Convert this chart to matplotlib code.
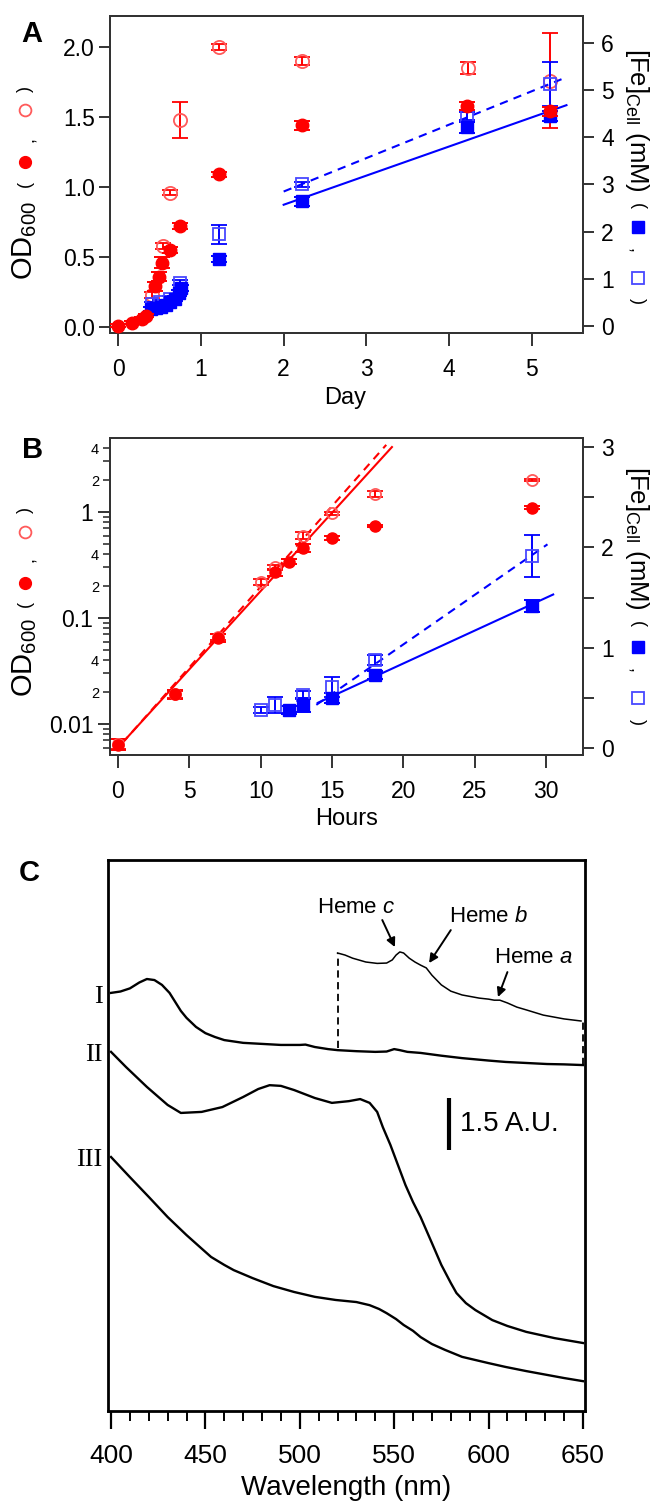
import numpy as np
import matplotlib
matplotlib.use('Agg')
import matplotlib.pyplot as plt
from matplotlib.lines import Line2D
from matplotlib.ticker import LogLocator, FuncFormatter, MultipleLocator
from matplotlib.transforms import blended_transform_factory

plt.rcParams['font.family'] = ['Liberation Sans', 'DejaVu Sans']
plt.rcParams['mathtext.fontset'] = 'custom'
plt.rcParams['mathtext.rm'] = 'Liberation Sans'
plt.rcParams['mathtext.it'] = 'Liberation Sans:italic'
plt.rcParams['mathtext.default'] = 'regular'

# ---------------- Panel A data (Day) ----------------
a_day_od_f = [0.0, 0.17, 0.29, 0.33, 0.45, 0.49, 0.53, 0.62, 0.75, 1.22, 2.22, 4.22, 5.22]
a_od_f     = [0.01, 0.03, 0.06, 0.08, 0.29, 0.36, 0.46, 0.55, 0.72, 1.09, 1.44, 1.58, 1.54]
a_od_f_err = [0.01, 0.01, 0.01, 0.01, 0.03, 0.03, 0.04, 0.02, 0.02, 0.02, 0.03, 0.03, 0.03]

a_day_od_o = [0.41, 0.54, 0.63, 0.75, 1.22, 2.22, 4.23, 5.22]
a_od_o     = [0.23, 0.58, 0.96, 1.48, 2.00, 1.90, 1.85, 1.76]
a_od_o_err = [0.02, 0.02, 0.02, 0.13, 0.02, 0.03, 0.04, 0.34]

a_day_fe_f = [0.40, 0.46, 0.52, 0.58, 0.63, 0.68, 0.74, 0.76, 1.22, 2.22, 4.22, 5.22]
a_fe_f     = [0.36, 0.38, 0.40, 0.44, 0.50, 0.58, 0.70, 0.80, 1.42, 2.64, 4.21, 4.45]
a_fe_f_err = [0.05, 0.05, 0.05, 0.05, 0.05, 0.05, 0.06, 0.06, 0.07, 0.10, 0.12, 0.10]

a_day_fe_o = [0.41, 0.50, 0.62, 0.75, 1.22, 2.22, 4.22, 5.22]
a_fe_o     = [0.46, 0.50, 0.58, 0.92, 1.94, 3.00, 4.45, 5.13]
a_fe_o_err = [0.05, 0.05, 0.05, 0.06, 0.20, 0.06, 0.08, 0.47]

a_fit_solid_x = [2.0, 5.42]
a_fit_solid_y = [2.57, 4.68]
a_fit_dash_x  = [2.0, 5.36]
a_fit_dash_y  = [2.85, 5.23]

# ---------------- Panel B data (Hours) ----------------
b_h_od_f   = [0, 4, 7, 11, 12, 13, 15, 18, 29]
b_od_f     = [0.0064, 0.019, 0.065, 0.27, 0.34, 0.46, 0.57, 0.74, 1.10]
b_od_f_rel = [0.12, 0.10, 0.08, 0.07, 0.05, 0.08, 0.04, 0.03, 0.03]

b_h_od_o   = [0, 4, 7, 10, 11, 13, 15, 18, 29]
b_od_o     = [0.0065, 0.019, 0.066, 0.22, 0.30, 0.60, 0.97, 1.48, 2.00]
b_od_o_rel = [0.10, 0.08, 0.07, 0.07, 0.05, 0.07, 0.04, 0.06, 0.03]

b_h_fe_f   = [12, 13, 15, 18, 29]
b_fe_f     = [0.38, 0.43, 0.50, 0.73, 1.42]
b_fe_f_err = [0.04, 0.07, 0.05, 0.04, 0.06]

b_h_fe_o   = [10, 11, 13, 15, 18, 29]
b_fe_o     = [0.38, 0.43, 0.53, 0.61, 0.88, 1.91]
b_fe_o_err = [0.03, 0.08, 0.04, 0.10, 0.05, 0.21]

b_fit_red_solid_x = [0.5, 19.2]
b_fit_red_solid_y = [0.0071, 4.1]
b_fit_red_dash_x  = [0.3, 18.8]
b_fit_red_dash_y  = [0.0066, 4.3]
b_fit_blue_solid_x = [14.0, 30.5]
b_fit_blue_solid_y = [0.45, 1.53]
b_fit_blue_dash_x  = [13.9, 30.1]
b_fit_blue_dash_y  = [0.43, 2.03]

# ---------------- Panel C data (spectra, A.U.) ----------------
wl_I = [400,405,410,415,419,423,427,431,434,437,440,445,450,455,460,470,480,490,500,503,508,515,520,530,540,546,550,553,557,564,575,586,600,609,620,631,640,650]
ab_I = [12.05,12.09,12.18,12.35,12.45,12.42,12.28,12.05,11.79,11.53,11.33,11.07,10.89,10.78,10.69,10.61,10.58,10.55,10.55,10.56,10.49,10.43,10.40,10.37,10.35,10.36,10.43,10.40,10.35,10.32,10.24,10.17,10.10,10.06,10.03,10.00,9.99,9.97]

wl_II = [400,408,419,430,437,448,459,470,478,484,490,497,508,517,526,532,537,541,544,548,552,556,560,564,570,575,580,583,588,593,602,610,620,635,650]
ab_II = [10.35,9.91,9.34,8.82,8.59,8.62,8.76,9.05,9.28,9.39,9.37,9.25,9.02,8.88,8.93,8.99,8.88,8.62,8.18,7.67,7.09,6.51,6.02,5.59,4.84,4.21,3.69,3.40,3.11,2.91,2.62,2.45,2.28,2.10,1.96]

wl_III = [400,410,420,430,440,447,453,460,465,475,486,497,508,519,530,537,542,546,551,555,560,564,570,577,586,600,609,620,631,640,650]
ab_III = [7.32,6.74,6.17,5.59,5.07,4.73,4.44,4.21,4.06,3.83,3.60,3.43,3.29,3.20,3.14,3.05,2.94,2.82,2.65,2.48,2.31,2.13,1.93,1.76,1.56,1.38,1.27,1.15,1.04,0.95,0.86]

wl_ins = [520,524,528,535,541,546,549,551,553,555,558,561,564,567,570,575,580,586,595,600,603,606,610,615,620,629,640,649]
ab_ins = [13.20,13.14,13.05,12.94,12.90,12.91,13.00,13.14,13.23,13.20,13.05,12.94,12.85,12.77,12.56,12.28,12.10,11.99,11.90,11.87,11.84,11.84,11.76,11.64,11.56,11.41,11.30,11.24]

ins_edge_wl = [520, 650]
ins_edge_lo = [10.46, 9.97]
ins_edge_hi = [13.20, 11.24]

C_labels = ['I', 'II', 'III']
C_label_y = [11.93, 10.26, 7.23]

heme_labels = ['Heme $\\mathit{c}$', 'Heme $\\mathit{b}$', 'Heme $\\mathit{a}$']
heme_text_xy = [(530, 14.52), (600, 14.24), (624, 13.08)]
heme_arrow_from = [(543.7, 14.15), (580.0, 13.86), (610.0, 12.65)]
heme_arrow_to = [(550.4, 13.37), (568.5, 12.91), (605.0, 11.93)]

scalebar_wl = 579
scalebar_y = [7.52, 9.02]

# ---------------- styling ----------------
RED = '#FF0000'
RED_O = '#FF5A5A'
BLUE = '#0000FF'
BLUE_O = '#4848FF'
SPC = '#333333'

W, H = 655, 1503
fig = plt.figure(figsize=(W / 100, H / 100), dpi=100)


def fx(x):
    return x / W


def fy(y):
    return 1 - y / H


def style_box(ax, lw=1.4, color=SPC):
    for s in ax.spines.values():
        s.set_linewidth(lw)
        s.set_color(color)


# ================= Panel A =================
axA = fig.add_axes([fx(110), fy(333), fx(473), 317 / H])
axA2 = axA.twinx()
axA3 = axA.twinx()

axA.set_xlim(-0.1, 5.62)
axA.set_ylim(-0.043, 2.221)
axA2.set_ylim(-0.148, 6.57)
axA3.set_ylim(axA.get_ylim())
axA3.axis('off')

ekw = dict(capsize=6, elinewidth=1.4, capthick=1.4, linestyle='none')
axA.errorbar(a_day_od_o, a_od_o, yerr=a_od_o_err, marker='o', ms=9.5, mfc='none', mec=RED_O,
             mew=1.3, ecolor=RED, **ekw)
axA2.errorbar(a_day_fe_o, a_fe_o, yerr=a_fe_o_err, marker='s', ms=8, mfc='none', mec=BLUE_O,
              mew=1.3, ecolor=BLUE, **ekw)
axA2.errorbar(a_day_fe_f, a_fe_f, yerr=a_fe_f_err, marker='s', ms=8, mfc=BLUE, mec=BLUE,
              ecolor=BLUE, **ekw)
axA2.plot(a_fit_solid_x, a_fit_solid_y, color=BLUE, lw=1.5)
axA2.plot(a_fit_dash_x, a_fit_dash_y, color=BLUE, lw=1.5, linestyle=(0, (4, 3)))
axA3.errorbar(a_day_od_f, a_od_f, yerr=a_od_f_err, marker='o', ms=9, mfc=RED, mec=RED,
              ecolor=RED, **ekw)

axA.set_xticks([0, 1, 2, 3, 4, 5])
axA.set_yticks([0.0, 0.5, 1.0, 1.5, 2.0])
axA.yaxis.set_major_formatter(FuncFormatter(lambda v, p: f'{v:.1f}'))
axA2.set_yticks([0, 1, 2, 3, 4, 5, 6])
axA.tick_params(axis='y', direction='out', length=8, width=1.4, color=SPC, labelsize=16.5, pad=3)
axA.tick_params(axis='x', direction='out', length=9, width=1.4, color=SPC, labelsize=16.5, pad=9)
axA2.tick_params(axis='y', direction='out', length=8, width=1.4, color=SPC, labelsize=16.5, pad=5)
style_box(axA)
style_box(axA2)

# ================= Panel B =================
axB = fig.add_axes([fx(110), fy(755), fx(473), 317 / H])
axB2 = axB.twinx()
axB.set_yscale('log')
axB.set_xlim(-0.56, 32.59)
axB.set_ylim(0.0051, 4.99)
axB2.set_ylim(-0.07, 3.09)

b_od_f_err = [v * r for v, r in zip(b_od_f, b_od_f_rel)]
b_od_o_err = [v * r for v, r in zip(b_od_o, b_od_o_rel)]

axB.plot(b_fit_red_solid_x, b_fit_red_solid_y, color=RED, lw=1.5)
axB.plot(b_fit_red_dash_x, b_fit_red_dash_y, color=RED, lw=1.5, linestyle=(0, (4, 3)))
axB.errorbar(b_h_od_o, b_od_o, yerr=b_od_o_err, marker='o', ms=8, mfc='none', mec=RED_O,
             mew=1.3, ecolor=RED, **ekw)
axB.errorbar(b_h_od_f, b_od_f, yerr=b_od_f_err, marker='o', ms=8, mfc=RED, mec=RED,
             ecolor=RED, **ekw)
axB2.errorbar(b_h_fe_o, b_fe_o, yerr=b_fe_o_err, marker='s', ms=8, mfc='none', mec=BLUE_O,
              mew=1.3, ecolor=BLUE, **ekw)
axB2.errorbar(b_h_fe_f, b_fe_f, yerr=b_fe_f_err, marker='s', ms=8, mfc=BLUE, mec=BLUE,
              ecolor=BLUE, **ekw)
axB2.plot(b_fit_blue_solid_x, b_fit_blue_solid_y, color=BLUE, lw=1.5)
axB2.plot(b_fit_blue_dash_x, b_fit_blue_dash_y, color=BLUE, lw=1.5, linestyle=(0, (4, 3)))

axB.set_xticks([0, 5, 10, 15, 20, 25, 30])
axB.yaxis.set_major_locator(LogLocator(base=10))
axB.yaxis.set_minor_locator(LogLocator(base=10, subs=range(2, 10)))


def major_fmt(v, pos):
    return {0.01: '0.01', 0.1: '0.1', 1.0: '1'}.get(round(v, 4), '')


def minor_fmt(v, pos):
    m = v / 10 ** np.floor(np.log10(v) + 1e-9)
    if abs(m - 2) < 0.01 or abs(m - 4) < 0.01:
        return str(int(round(m)))
    return ''


axB.yaxis.set_major_formatter(FuncFormatter(major_fmt))
axB.yaxis.set_minor_formatter(FuncFormatter(minor_fmt))
axB2.set_yticks([0, 1, 2, 3])
axB2.yaxis.set_minor_locator(MultipleLocator(0.5))
axB.tick_params(axis='y', which='major', direction='out', length=9, width=1.4, color=SPC,
                labelsize=16.5, pad=3)
axB.tick_params(axis='y', which='minor', direction='out', length=5, width=1.2, color=SPC,
                labelsize=10.5, pad=3)
axB.tick_params(axis='x', direction='out', length=9, width=1.4, color=SPC, labelsize=16.5, pad=9)
axB2.tick_params(axis='y', which='both', direction='out', length=8, width=1.4, color=SPC,
                 labelsize=16.5, pad=5)
style_box(axB)
style_box(axB2)

# ---------- axis labels with symbol keys ----------
def left_key(y_lab, y_paren1, y_fill, y_comma, y_open, y_paren2, x=25):
    fig.text(fx(x), fy(y_lab), 'OD$_{600}$', rotation=90, ha='center', va='center', fontsize=21)
    fig.text(fx(x), fy(y_paren1), '(', rotation=90, ha='center', va='center', fontsize=13)
    fig.text(fx(x + 4), fy(y_comma), ',', rotation=90, ha='center', va='center', fontsize=13)
    fig.text(fx(x), fy(y_paren2), ')', rotation=90, ha='center', va='center', fontsize=13)
    fig.add_artist(Line2D([fx(x)], [fy(y_fill)], marker='o', ms=8.5, mfc=RED, mec=RED,
                          transform=fig.transFigure))
    fig.add_artist(Line2D([fx(x)], [fy(y_open)], marker='o', ms=8.5, mfc='none', mec=RED_O,
                          mew=1.3, transform=fig.transFigure))


def right_key(y_lab, y_paren1, y_fill, y_comma, y_open, y_paren2, x=637):
    fig.text(fx(x), fy(y_lab), '[Fe]$_{Cell}$ (mM)', rotation=270, ha='center', va='center',
             fontsize=18.5)
    fig.text(fx(x), fy(y_paren1), '(', rotation=270, ha='center', va='center', fontsize=13)
    fig.text(fx(x - 4), fy(y_comma), ',', rotation=270, ha='center', va='center', fontsize=13)
    fig.text(fx(x), fy(y_paren2), ')', rotation=270, ha='center', va='center', fontsize=13)
    fig.add_artist(Line2D([fx(x + 1)], [fy(y_fill)], marker='s', ms=8, mfc=BLUE, mec=BLUE,
                          transform=fig.transFigure))
    fig.add_artist(Line2D([fx(x + 1)], [fy(y_open)], marker='s', ms=8, mfc='none', mec=BLUE_O,
                          mew=1.3, transform=fig.transFigure))


left_key(240, 184, 162, 140, 110, 89)
right_key(120, 206, 227, 250, 278, 301)
left_key(657, 604, 583, 560, 532, 510)
right_key(538, 624, 647, 670, 698, 722)

fig.text(fx(345), fy(398), 'Day', ha='center', va='center', fontsize=17)
fig.text(fx(347), fy(819), 'Hours', ha='center', va='center', fontsize=17)

fig.text(fx(32), fy(34), 'A', ha='center', va='center', fontsize=21, fontweight='bold')
fig.text(fx(33), fy(450), 'B', ha='center', va='center', fontsize=21, fontweight='bold')
fig.text(fx(29), fy(873), 'C', ha='center', va='center', fontsize=21, fontweight='bold')

# ================= Panel C =================
axC = fig.add_axes([fx(108), fy(1411), fx(477), 551 / H])
axC.set_xlim(398.4, 651.1)
axC.set_ylim(0, 15.88)
axC.plot(wl_I, ab_I, color='k', lw=1.7)
axC.plot(wl_II, ab_II, color='k', lw=1.7)
axC.plot(wl_III, ab_III, color='k', lw=1.7)
axC.plot(wl_ins, ab_ins, color='k', lw=1.1)
for wx, lo, hi in zip(ins_edge_wl, ins_edge_lo, ins_edge_hi):
    axC.plot([wx, wx], [lo, hi], color='k', lw=1.3, linestyle=(0, (4, 2.5)))

axC.plot([scalebar_wl, scalebar_wl], scalebar_y, color='k', lw=3, solid_capstyle='butt')
axC.text(scalebar_wl + 6, np.mean(scalebar_y), '1.5 A.U.', ha='left', va='center', fontsize=20)

for lab, (tx, ty), a0, a1 in zip(heme_labels, heme_text_xy, heme_arrow_from, heme_arrow_to):
    axC.text(tx, ty, lab, ha='center', va='center', fontsize=16)
    axC.annotate('', xy=a1, xytext=a0,
                 arrowprops=dict(arrowstyle='-|>', color='k', lw=1.4, mutation_scale=13,
                                 shrinkA=0, shrinkB=0))

trC = blended_transform_factory(axC.transAxes, axC.transData)
for lab, ly in zip(C_labels, C_label_y):
    axC.text(-0.011, ly, lab, transform=trC, ha='right', va='center', fontsize=19,
             family=['Liberation Serif', 'DejaVu Serif'])

axC.set_yticks([])
axC.set_xticks(np.arange(400, 651, 50))
axC.xaxis.set_minor_locator(MultipleLocator(10))
axC.tick_params(axis='x', which='major', direction='out', length=13, width=1.6, color='k',
                labelsize=19, pad=11)
axC.tick_params(axis='x', which='minor', direction='out', length=7, width=1.4, color='k')
style_box(axC, lw=2, color='k')
fig.text(fx(346), fy(1488), 'Wavelength (nm)', ha='center', va='center', fontsize=20)

fig.savefig('out.png', dpi=100)
